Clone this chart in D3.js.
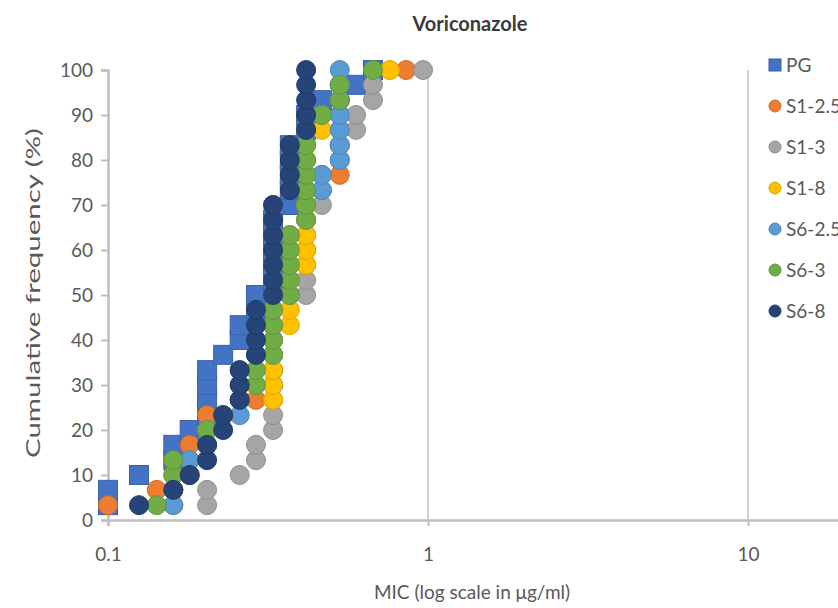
<!DOCTYPE html>
<html>
<head>
<meta charset="utf-8">
<script src="https://cdn.jsdelivr.net/npm/d3@7"></script>
<style>
  body { margin: 0; background: #fff; }
  svg { display: block; font-family: Lato, "Open Sans", sans-serif; }
</style>
</head>
<body>
<div id="chart"></div>
<script>
// cumulative frequency (%) for isolate rank 1..30
var cumFreq = [3.3, 6.7, 10, 13.3, 16.7, 20, 23.3, 26.7, 30, 33.3,
               36.7, 40, 43.3, 46.7, 50, 53.3, 56.7, 60, 63.3, 66.7,
               70, 73.3, 76.7, 80, 83.3, 86.7, 90, 93.3, 96.7, 100];

// sorted MIC per isolate (ug/ml)
var micPG   = [0.1, 0.1, 0.125, 0.16, 0.16, 0.18, 0.204, 0.204, 0.204, 0.204,
               0.229, 0.258, 0.258, 0.29, 0.29, 0.328, 0.328, 0.328, 0.328, 0.328,
               0.37, 0.37, 0.37, 0.37, 0.37, 0.416, 0.416, 0.466, 0.596, 0.673];
var micS1_25 = [0.1, 0.142, 0.16, 0.18, 0.18, 0.204, 0.204, 0.29, 0.328, 0.328,
               0.328, 0.328, 0.328, 0.328, 0.37, 0.37, 0.37, 0.37, 0.37, 0.416,
               0.416, 0.416, 0.53, 0.53, 0.53, 0.53, 0.53, 0.53, 0.53, 0.854];
var micS1_3 = [0.204, 0.204, 0.258, 0.29, 0.29, 0.328, 0.328, 0.328, 0.328, 0.328,
               0.328, 0.328, 0.328, 0.328, 0.416, 0.416, 0.416, 0.416, 0.416, 0.416,
               0.466, 0.466, 0.466, 0.53, 0.53, 0.596, 0.596, 0.673, 0.673, 0.965];
var micS1_8 = [0.16, 0.16, 0.18, 0.18, 0.204, 0.204, 0.229, 0.328, 0.328, 0.328,
               0.328, 0.328, 0.37, 0.37, 0.37, 0.37, 0.416, 0.416, 0.416, 0.416,
               0.416, 0.416, 0.416, 0.416, 0.416, 0.466, 0.466, 0.53, 0.53, 0.76];
var micS6_25 = [0.16, 0.16, 0.18, 0.18, 0.204, 0.204, 0.258, 0.258, 0.258, 0.258,
               0.29, 0.29, 0.29, 0.29, 0.328, 0.328, 0.328, 0.328, 0.328, 0.328,
               0.328, 0.466, 0.466, 0.53, 0.53, 0.53, 0.53, 0.53, 0.53, 0.53];
var micS6_3 = [0.142, 0.16, 0.16, 0.16, 0.204, 0.204, 0.229, 0.258, 0.29, 0.29,
               0.328, 0.328, 0.328, 0.328, 0.37, 0.37, 0.37, 0.37, 0.37, 0.416,
               0.416, 0.416, 0.416, 0.416, 0.416, 0.416, 0.466, 0.53, 0.53, 0.673];
var micS6_8 = [0.125, 0.16, 0.18, 0.204, 0.204, 0.229, 0.229, 0.258, 0.258, 0.258,
               0.29, 0.29, 0.29, 0.29, 0.328, 0.328, 0.328, 0.328, 0.328, 0.328,
               0.328, 0.37, 0.37, 0.37, 0.37, 0.416, 0.416, 0.416, 0.416, 0.416];

var seriesNames  = ["PG", "S1-2.5", "S1-3", "S1-8", "S6-2.5", "S6-3", "S6-8"];
var seriesMic    = [micPG, micS1_25, micS1_3, micS1_8, micS6_25, micS6_3, micS6_8];
var seriesColors = ["#4472C4", "#ED7D31", "#A5A5A5", "#FFC000", "#5B9BD5", "#70AD47", "#264478"];

var xTicks = [0.1, 1, 10];
var yTicks = [0, 10, 20, 30, 40, 50, 60, 70, 80, 90, 100];

var W = 838, H = 608;
var margin = {left: 108, top: 70, bottom: 88};

var svg = d3.select("#chart").append("svg")
  .attr("width", W)
  .attr("height", H);

svg.append("rect").attr("width", W).attr("height", H).attr("fill", "#fff");

// log x: one decade = 320px, domain runs past the right edge like the cropped original
var x = d3.scaleLog()
  .domain([0.1, 100])
  .range([margin.left, margin.left + 3 * 320]);

var y = d3.scaleLinear()
  .domain([0, 100])
  .range([H - margin.bottom, margin.top]);

var axisCol = "#bfbfbf", textCol = "#595959";

// vertical gridlines at 1 and 10
svg.append("g").selectAll("line")
  .data(xTicks.slice(1))
  .enter().append("line")
  .attr("x1", d => x(d)).attr("x2", d => x(d))
  .attr("y1", y(100)).attr("y2", y(0))
  .attr("stroke", "#d0d0d0")
  .attr("stroke-width", 2);

// axes
var gx = svg.append("g")
  .attr("transform", `translate(0, ${y(0)})`)
  .call(d3.axisBottom(x).tickValues(xTicks).tickFormat(d3.format("")).tickSize(6).tickPadding(22));

var gy = svg.append("g")
  .attr("transform", `translate(${margin.left}, 0)`)
  .call(d3.axisLeft(y).tickValues(yTicks).tickSize(7).tickPadding(8));

[gx, gy].forEach(function(g) {
  g.select(".domain").attr("stroke", axisCol).attr("stroke-width", 2.5);
  g.selectAll(".tick line").attr("stroke", axisCol).attr("stroke-width", 2);
  g.selectAll(".tick text")
    .attr("fill", textCol)
    .style("font-size", "19px")
    .style("font-family", "Lato, sans-serif");
});
gy.selectAll(".tick text").attr("dy", "0.35em");

// points, drawn series by series so later ones sit on top
seriesMic.forEach(function(mic, si) {
  var pts = mic.map((m, i) => ({mic: m, cf: cumFreq[i]}));
  var col = seriesColors[si];
  var g = svg.append("g").attr("class", "series s" + si);
  if (si === 0) {
    g.selectAll("rect")
      .data(pts)
      .enter().append("rect")
      .attr("x", d => x(d.mic) - 9.5)
      .attr("y", d => y(d.cf) - 9.5)
      .attr("width", 19)
      .attr("height", 19)
      .attr("fill", col)
      .attr("stroke", d3.color(col).darker(0.4))
      .attr("stroke-width", 1);
  } else {
    g.selectAll("circle")
      .data(pts)
      .enter().append("circle")
      .attr("cx", d => x(d.mic))
      .attr("cy", d => y(d.cf))
      .attr("r", 9.5)
      .attr("fill", col)
      .attr("stroke", d3.color(col).darker(0.4))
      .attr("stroke-width", 1);
  }
});

// legend (runs off the right edge, as in the cropped original)
var legend = svg.append("g").attr("transform", "translate(775, 65)");
var item = legend.selectAll("g")
  .data(seriesNames)
  .enter().append("g")
  .attr("transform", (d, i) => `translate(0, ${i * 41})`);

item.each(function(d, i) {
  var g = d3.select(this);
  var col = seriesColors[i];
  if (i === 0) {
    g.append("rect").attr("x", -6).attr("y", -6).attr("width", 12).attr("height", 12)
      .attr("fill", col).attr("stroke", d3.color(col).darker(0.5));
  } else {
    g.append("circle").attr("r", 6)
      .attr("fill", col).attr("stroke", d3.color(col).darker(0.5));
  }
  g.append("text")
    .attr("x", 11)
    .attr("dy", "0.36em")
    .attr("fill", textCol)
    .style("font-size", "19px")
    .text(d);
});

// titles
svg.append("text")
  .attr("x", 470)
  .attr("y", 31)
  .attr("text-anchor", "middle")
  .attr("fill", "#3a3a3a")
  .style("font-size", "20px")
  .style("font-weight", "bold")
  .text("Voriconazole");

svg.append("text")
  .attr("transform", "translate(40, 293) rotate(-90)")
  .attr("text-anchor", "middle")
  .attr("fill", textCol)
  .style("font-size", "19px")
  .attr("textLength", 330)
  .attr("lengthAdjust", "spacingAndGlyphs")
  .text("Cumulative frequency (%)");

svg.append("text")
  .attr("x", 472)
  .attr("y", 599)
  .attr("text-anchor", "middle")
  .attr("fill", textCol)
  .style("font-size", "19px")
  .text("MIC (log scale in μg/ml)");
</script>
</body>
</html>
